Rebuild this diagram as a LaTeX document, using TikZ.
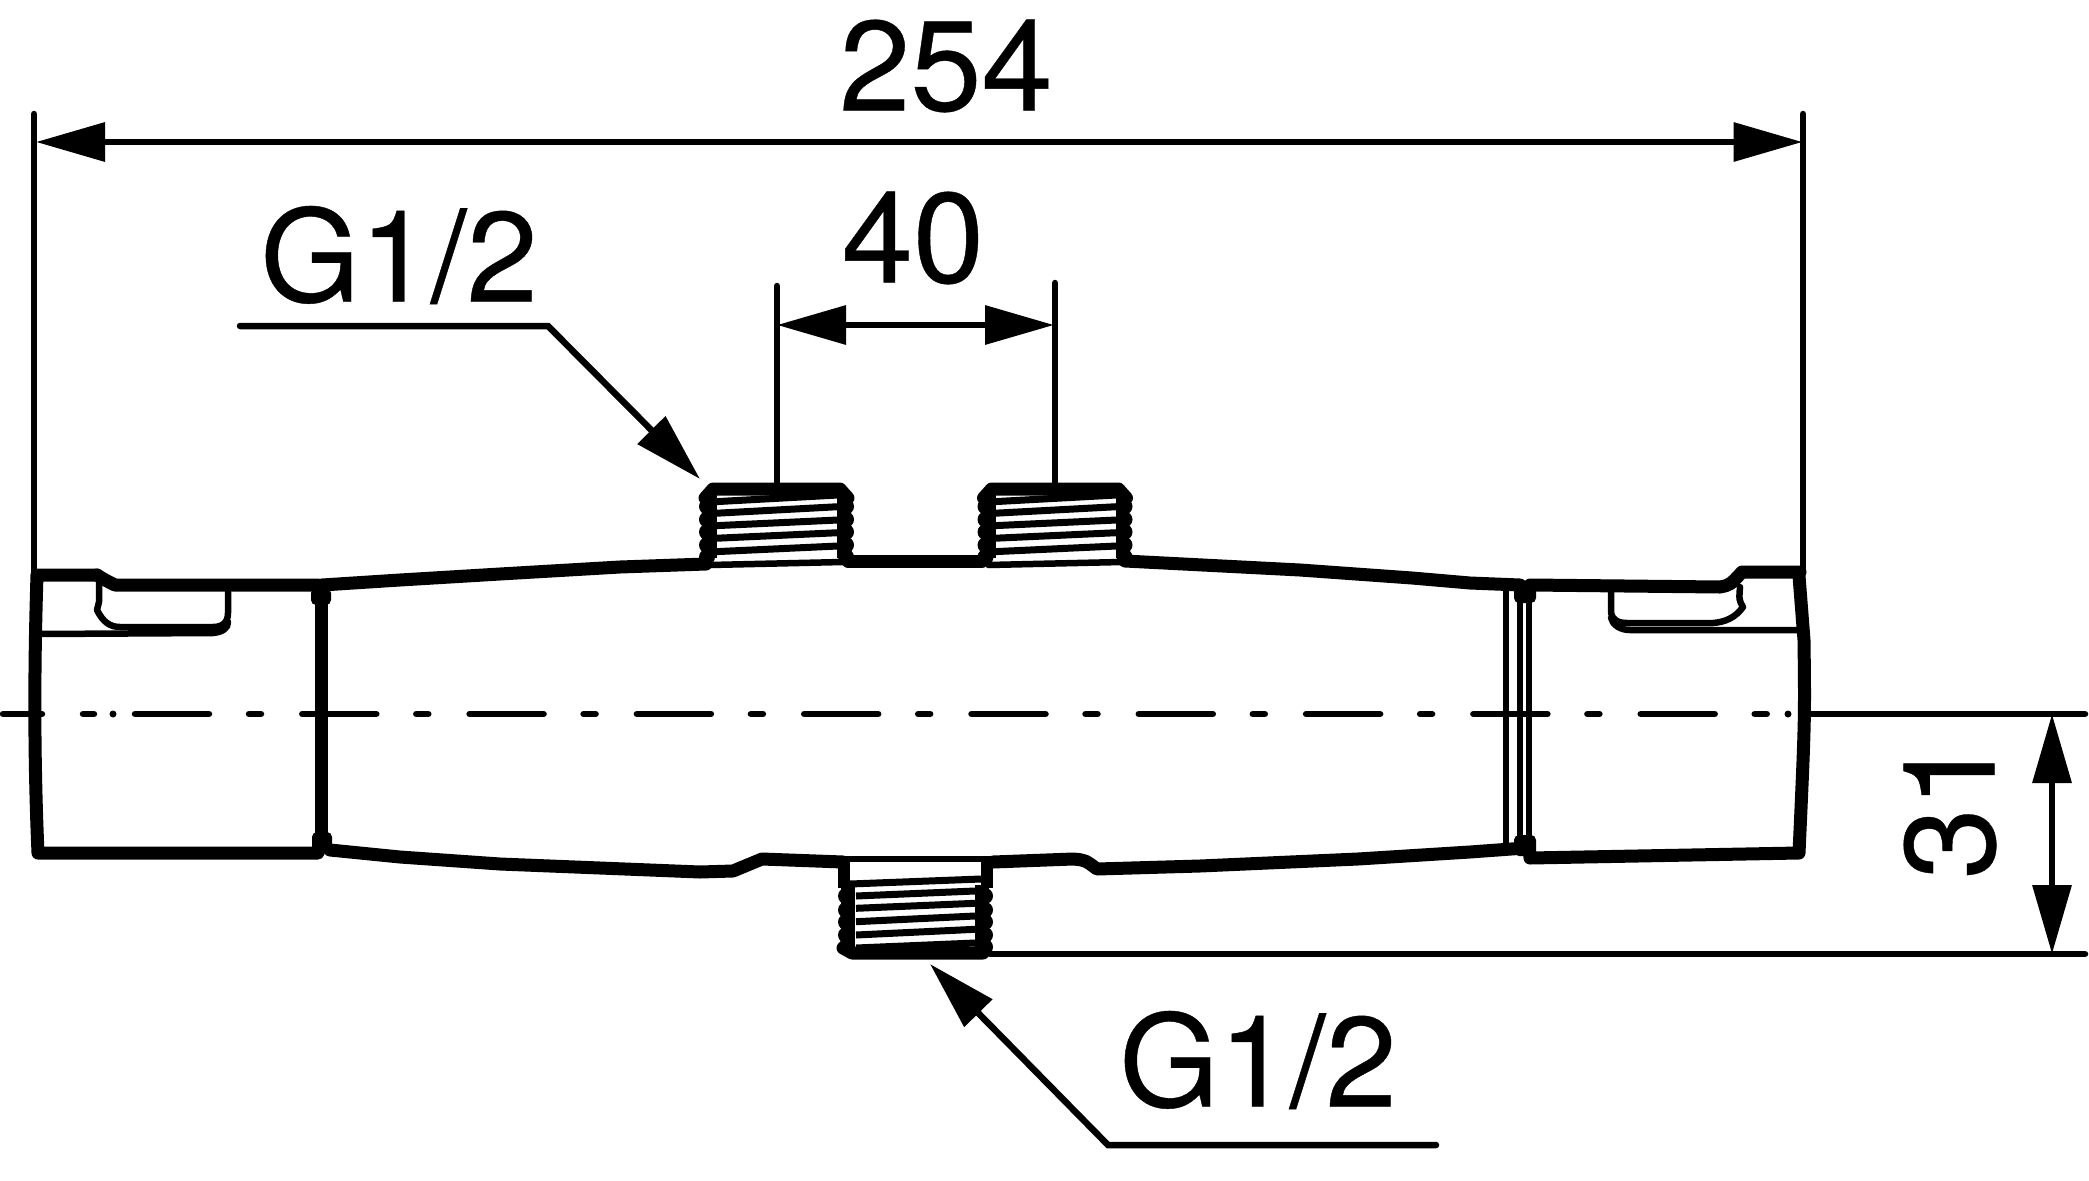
\documentclass[tikz,border=0pt]{standalone}
\usepackage{fontspec}
\newfontfamily\dimfont[FakeBold=0.3]{TeX Gyre Heros}
\usetikzlibrary{arrows.meta}
\tikzset{
  body/.style={line width=13pt,line join=round,line cap=round},
  thin part/.style={line width=6.5pt,line join=round,line cap=round},
  dimline/.style={line width=6.5pt,line cap=round,>={Triangle[length=69pt,width=38pt]}},
  dimtext/.style={inner sep=0pt,font=\dimfont\fontsize{128}{128}\selectfont}
}
\begin{document}
\begin{tikzpicture}[x=1pt,y=-1pt]
\useasboundingbox (0,0) rectangle (2089,1181);
%%% centre line
\draw[thin part] (3,714) -- (42,714);
\draw[thin part] (83,714) -- (94,714);
\fill (113,714) circle (3.5pt);
\foreach \i in {0,...,9} {
  \draw[thin part] (135+167.3*\i,714) -- (209+167.3*\i,714);
  \draw[thin part] (249+167.3*\i,714) -- (261+167.3*\i,714);
}
\fill (1788,714) circle (3.5pt);
\draw[thin part] (1805,714) -- (2085,714);
%%% left end of the body
\draw[body] (97,575) -- (37,575) .. controls (34,670) and (34,760) .. (38,853) -- (318,853) -- (322,840);
\draw[body] (97,575) .. controls (105,580) .. (115,585) -- (318,585);
\draw[thin part] (99,582) -- (99,602) -- (97,610) .. controls (103,622) and (110,627) .. (120,627) -- (213,627) .. controls (223,627) and (228,622) .. (228,613) -- (228,592);
\draw[thin part] (40,634) -- (213,633) .. controls (223,632) and (228,628) .. (228,622);
\draw[line width=13pt] (321,595) -- (321,845);
\fill[rounded corners=5pt] (311,588) rectangle (331,605);
\fill[rounded corners=5pt] (312,832) rectangle (332,853);
%%% middle of the body
\draw[body] (322,585) -- (400,580) -- (500,574) -- (620,567) -- (706,564);
\draw[body] (848,561) -- (982,561);
\draw[body] (1125,561) -- (1300,570) -- (1412,578) -- (1470,583) -- (1520,585);
\draw[body] (330,850) -- (400,857) -- (500,864) -- (600,868) -- (700,872) -- (733,871) -- (762,859) -- (843,862);
\draw[body] (993,862) -- (1073,859) .. controls (1085,860) .. (1097,869) -- (1200,866) -- (1358,859) -- (1470,852) -- (1525,848);
%%% right end of the body
\draw[body] (1530,585) -- (1720,587) .. controls (1730,585) .. (1742,572) -- (1800,572);
\draw[body] (1799,576) -- (1804,640) .. controls (1805,720) .. (1799,853) -- (1530,858) -- (1529,845);
\draw[thin part] (1611,592) -- (1611,612) .. controls (1612,620) and (1618,623) .. (1627,623) -- (1713,623) .. controls (1725,622) and (1735,618) .. (1743,607) .. controls (1739,600) .. (1740,587);
\draw[thin part] (1611,618) .. controls (1613,625) and (1620,630) .. (1630,630) -- (1798,630);
\draw[thin part] (1506,590) -- (1506,846);
\draw[thin part] (1520,590) -- (1520,846);
\draw[thin part] (1529,590) -- (1529,846);
\fill[rounded corners=5pt] (1514,585) rectangle (1536,603);
\fill[rounded corners=5pt] (1514,835) rectangle (1536,856);
%%% the two upper threads
\foreach \sx in {0,278.5} {
\begin{scope}[xshift=\sx pt]
  \draw[body] (705,498) -- (713,489) -- (840,489) -- (848,498);
  \draw[line width=15pt] (709.5,495) -- (709.5,558);
  \draw[line width=13pt] (843.5,495) -- (843.5,558);
  \foreach \yy in {506.5,519.5,532,545,557} {
    \fill (707,\yy) circle (8pt);
    \fill (846,\yy) circle (8pt);
  }
  \draw[line width=7pt] (715,501.7) -- (838,495);
  \draw[line width=7pt] (715,513.3) -- (838,506.7);
  \draw[line width=7pt] (715,525.7) -- (838,520);
  \draw[line width=7pt] (715,538.3) -- (838,532.7);
  \draw[line width=7pt] (715,551.7) -- (838,546);
  \draw[thin part] (710,565) -- (843,562);
\end{scope}
}
%%% lower thread
\draw[thin part] (843,859) -- (993,859);
\draw[line width=12pt] (844,858) -- (844,888);
\draw[line width=12pt] (987,858) -- (987,888);
\draw[line width=14pt] (848,885) -- (848,948);
\draw[line width=14pt] (982,885) -- (982,948);
\foreach \yy in {896,910,922,935,947} {
  \fill (846,\yy) circle (8pt);
  \fill (985,\yy) circle (8pt);
}
\draw[line width=7pt] (850,884) -- (981,879);
\draw[line width=7pt] (856,896) -- (975,891);
\draw[line width=7pt] (856,908.3) -- (975,903.3);
\draw[line width=7pt] (856,921.7) -- (975,916);
\draw[line width=7pt] (856,935) -- (975,929.3);
\draw[line width=7pt] (856,948) -- (975,943);
\draw[body] (843,948) -- (852,953) -- (983,953);
%%% dimension 254
\node[dimtext] (overall) at (946,66) {254};
\coordinate (overallL) at (36,142);
\coordinate (overallR) at (1802.5,142);
\draw[dimline] (34,114) -- (34,575);
\draw[dimline] (1803,114) -- (1803,572);
\draw[dimline,<->] (overallL) -- (overallR);
%%% dimension 40
\node[dimtext] (spacing) at (913,238) {40};
\coordinate (spacingL) at (777,325);
\coordinate (spacingR) at (1054,325);
\draw[dimline] (777,286) -- (777,489);
\draw[dimline] (1055,283) -- (1055,489);
\draw[dimline,<->] (spacingL) -- (spacingR);
%%% dimension 31
\node[dimtext,rotate=90] (height) at (1950,808) {31};
\coordinate (heightT) at (2052,714);
\coordinate (heightB) at (2052,954);
\draw[dimline] (990,954) -- (2085,954);
\draw[dimline,<->] (heightT) -- (heightB);
%%% thread labels
\node[dimtext] (upperthread) at (399,255) {G1/2};
\coordinate (upperL) at (240,326);
\coordinate (upperC) at (548,326);
\coordinate (upperT) at (700,479);
\draw[dimline,->] (upperL) -- (upperC) -- (upperT);
\node[dimtext] (lowerthread) at (1258,1060) {G1/2};
\coordinate (lowerR) at (1436,1145);
\coordinate (lowerC) at (1108,1145);
\coordinate (lowerT) at (930,964);
\draw[dimline,->] (lowerR) -- (lowerC) -- (lowerT);
\end{tikzpicture}
\end{document}
